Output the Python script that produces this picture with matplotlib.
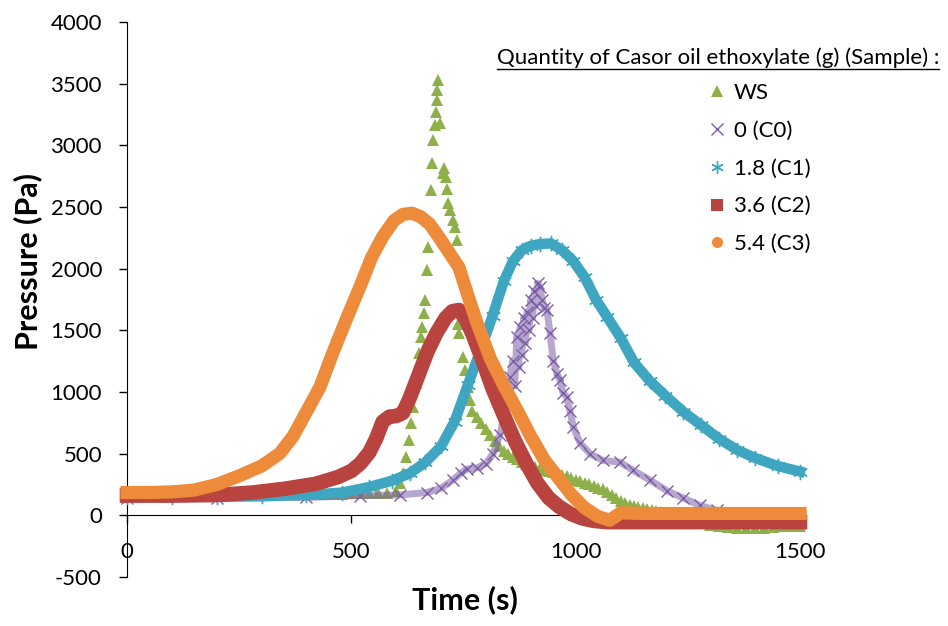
import matplotlib
matplotlib.use("Agg")
import matplotlib.pyplot as plt
from matplotlib.lines import Line2D

plt.rcParams['font.family'] = ['Lato', 'DejaVu Sans']
plt.rcParams['axes.unicode_minus'] = False

# WS (triangles)
ws_t = [0, 20, 40, 60, 80, 100, 120, 140, 160, 180, 200, 220, 240, 260, 280, 300, 320, 340, 360, 380, 400,
        420, 440, 460, 480, 500, 520, 540, 560, 580,
        600, 608, 615, 622, 628, 633, 638, 644, 650, 655, 658, 661, 664, 668, 671, 678, 680, 682, 686, 688, 690, 691, 693,
        698, 704, 706, 711, 713, 716, 720, 726, 731, 735, 738, 741, 749, 753, 760, 764,
        770, 780, 790, 800, 810, 820, 830, 840, 850, 860, 870, 880, 890, 900, 910, 920, 930, 940, 950, 960, 970, 980,
        990, 1000, 1010, 1020, 1030, 1040, 1050, 1060, 1070, 1080, 1090, 1100, 1110, 1120, 1130, 1140, 1150, 1160,
        1170, 1180, 1190, 1200, 1220, 1240, 1260, 1280, 1300, 1320, 1340, 1360, 1380, 1400, 1420, 1440, 1460, 1480, 1500]
ws_p = [170, 170, 170, 170, 170, 170, 170, 170, 170, 170, 170, 172, 175, 175, 175, 175, 175, 175, 175, 175, 175,
        175, 175, 175, 175, 178, 180, 180, 182, 185,
        200, 260, 340, 470, 610, 745, 875, 1070, 1315, 1445, 1525, 1640, 1745, 1990, 2175, 2635, 2855, 3040, 3165, 3270, 3370, 3450, 3530,
        3180, 2775, 2815, 2740, 2650, 2530, 2475, 2395, 2335, 2230, 1555, 1475, 1285, 1180, 1040, 935,
        845, 800, 750, 700, 650, 600, 560, 525, 500, 475, 455, 435, 420, 405, 392, 380, 370, 360, 350, 340, 328, 315,
        302, 290, 278, 265, 252, 240, 225, 210, 188, 165, 140, 115, 100, 85, 78, 70, 62, 55,
        45, 35, 25, 15, 0, -20, -40, -60, -80, -90, -95, -100, -100, -100, -100, -95, -90, -85, -85]

# 0 (C0)
c0_t = [0, 200, 400, 519, 608, 668, 700, 726, 745, 757, 780, 800, 816, 831, 846, 853, 860, 864, 869, 873, 876, 880, 884,
        888, 892, 896, 900, 904, 908, 912, 916, 920, 925, 930, 936, 943, 950, 958, 965, 972, 980, 987, 995, 1010, 1032,
        1061, 1099, 1128, 1166, 1203, 1240, 1277, 1315, 1350, 1400, 1450, 1500]
c0_p = [140, 140, 145, 160, 165, 185, 220, 285, 345, 375, 385, 420, 500, 650, 910, 1120, 1255, 1050, 1445, 1200, 1525, 1300, 1600,
        1400, 1650, 1500, 1750, 1600, 1820, 1700, 1880, 1850, 1750, 1680, 1665, 1475, 1255, 1150, 1100, 990, 960, 850, 715, 585, 500,
        445, 430, 365, 285, 200, 140, 80, 40, 15, 0, -5, -10]

# 1.8 (C1)
c1_t = [0, 100, 200, 300, 400, 480, 540, 590, 630, 665, 700, 730, 760, 790, 815, 840, 860, 880, 900, 920, 945, 970, 995,
        1020, 1045, 1070, 1100, 1130, 1165, 1200, 1240, 1280, 1320, 1360, 1400, 1450, 1500]
c1_p = [150, 150, 150, 155, 165, 185, 230, 280, 340, 430, 560, 760, 1060, 1360, 1620, 1900, 2060, 2150, 2185, 2200, 2205, 2150, 2060,
        1930, 1750, 1610, 1440, 1240, 1090, 970, 840, 730, 620, 530, 465, 400, 355]

# 3.6 (C2)
c2_t = [0, 100, 200, 280, 350, 420, 470, 500, 520, 540, 555, 570, 585, 600, 615, 630, 650, 670, 690, 710, 725, 740, 755, 770,
        790, 815, 840, 865, 890, 915, 940, 965, 990, 1015, 1040, 1070, 1100, 1200, 1300, 1400, 1500]
c2_p = [160, 160, 165, 185, 215, 255, 310, 360, 420, 510, 620, 760, 800, 805, 830, 950, 1140, 1330, 1480, 1600, 1655, 1665, 1590, 1470,
        1280, 1025, 810, 600, 420, 260, 140, 65, 10, -25, -45, -55, -55, -55, -55, -55, -55]

# 5.4 (C3)
c3_t = [0, 50, 100, 150, 200, 250, 300, 340, 370, 400, 430, 460, 490, 520, 545, 570, 595, 615, 635, 655, 675, 700, 720, 740,
        760, 780, 810, 840, 870, 900, 930, 960, 990, 1020, 1050, 1076, 1100, 1150, 1250, 1350, 1500]
c3_p = [185, 185, 190, 205, 250, 320, 400, 500, 640, 840, 1040, 1330, 1600, 1860, 2090, 2260, 2390, 2440, 2450, 2420, 2360, 2230, 2120, 2010,
        1780, 1560, 1270, 1050, 850, 640, 450, 310, 170, 60, -10, -40, 20, 15, 15, 15, 15]

labels = ['WS', '0 (C0)', '1.8 (C1)', '3.6 (C2)', '5.4 (C3)']
green, purple, teal, red, orange = '#8DB04A', '#7D5FA8', '#3FA6C2', '#B8433F', '#EE8B3A'
asterisk = (6, 2, 0)

fig = plt.figure(figsize=(9.48, 6.26), dpi=100)
ax = fig.add_axes([127 / 948, 1 - 577 / 626, 673 / 948, 555 / 626])

ax.plot(ws_t, ws_p, ls='none', color=green, marker='^', ms=8.5, mew=0, zorder=2, clip_on=False)
ax.plot(c0_t, c0_p, color=purple, lw=5, alpha=0.55, solid_joinstyle='round', zorder=3, clip_on=False)
ax.plot(c0_t, c0_p, ls='none', color=purple, marker='x', ms=9, mew=1, zorder=3, clip_on=False)
ax.plot(c1_t, c1_p, color=teal, lw=7.5, solid_joinstyle='round', marker=asterisk, ms=11, mew=1,
        zorder=4, clip_on=False)
ax.plot(c2_t, c2_p, color=red, lw=10.5, solid_joinstyle='round', zorder=5, clip_on=False)
ax.plot(c3_t, c3_p, color=orange, lw=9.5, solid_joinstyle='round', zorder=6, clip_on=False)

ax.set_xlim(0, 1500)
ax.set_ylim(-500, 4000)
ax.set_xticks([0, 500, 1000, 1500])
ax.set_yticks(range(-500, 4001, 500))
ax.spines['bottom'].set_position(('data', 0))
ax.spines['top'].set_visible(False)
ax.spines['right'].set_visible(False)
ax.tick_params(axis='both', direction='out', length=6, width=1, labelsize=16, colors='black')
ax.tick_params(axis='y', pad=12)
ax.tick_params(axis='x', pad=13)

fig.text(465 / 948, 1 - 600 / 626, 'Time (s)', ha='center', va='center', fontsize=22, fontweight='bold')
fig.text(28 / 948, 1 - 262 / 626, 'Pressure (Pa)', ha='center', va='center', rotation=90,
         fontsize=22, fontweight='bold')

handles = [
    Line2D([], [], ls='none', marker='^', color=green, ms=8, mew=0),
    Line2D([], [], ls='none', marker='x', color=purple, ms=8, mew=1),
    Line2D([], [], ls='none', marker=asterisk, color=teal, ms=9, mew=1),
    Line2D([], [], ls='none', marker='s', color=red, ms=8, mew=0),
    Line2D([], [], ls='none', marker='o', color=orange, ms=8, mew=0),
]
ax.legend(handles, labels, loc='upper left', bbox_to_anchor=(708 / 948, 1 - 83 / 626),
          bbox_transform=fig.transFigure, frameon=False, fontsize=16, handlelength=0.8,
          handletextpad=0.35, labelspacing=0.8, borderpad=0, borderaxespad=0)

title = fig.text(497 / 948, 1 - 58 / 626, 'Quantity of Casor oil ethoxylate (g) (Sample) :',
                 ha='left', va='center', fontsize=16)
fig.canvas.draw()
bb = title.get_window_extent()
W, H = fig.bbox.width, fig.bbox.height
fig.add_artist(Line2D([bb.x0 / W, bb.x1 / W], [(bb.y0 - 1) / H, (bb.y0 - 1) / H],
                      transform=fig.transFigure, color='black', lw=1))

fig.savefig('out.png', dpi=100)
